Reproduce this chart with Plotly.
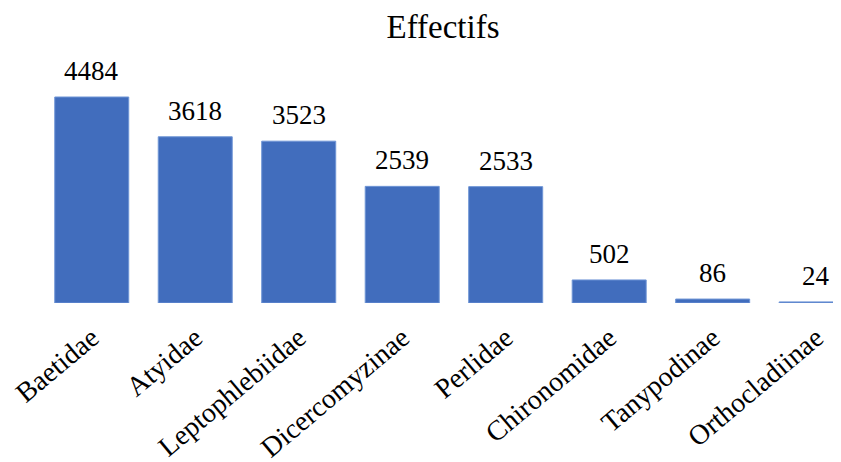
import plotly.graph_objects as go

categories = ["Baetidae", "Atyidae", "Leptophlebiidae", "Dicercomyzinae",
              "Perlidae", "Chironomidae", "Tanypodinae", "Orthocladiinae"]
values = [4484, 3618, 3523, 2539, 2533, 502, 86, 24]

fig = go.Figure(go.Bar(
    x=categories, y=values,
    marker=dict(color="#416dbd", line=dict(color="#6f95d6", width=1)),
    width=0.715, cliponaxis=False,
))

for c, v in zip(categories, values):
    fig.add_annotation(x=c, y=v, text=str(v), showarrow=False,
                       yanchor="bottom", yshift=9,
                       font=dict(family="Liberation Serif", size=27, color="black"))

fig.update_layout(
    width=841, height=462,
    margin=dict(l=32, r=8, t=32, b=167, autoexpand=False),
    paper_bgcolor="white", plot_bgcolor="white",
    title=dict(text="Effectifs", x=435/841, xanchor="center", y=1 - 18/462, yanchor="middle",
               font=dict(family="Liberation Serif", size=33, color="black")),
    xaxis=dict(range=[-0.5, 7.24], tickangle=-40, showline=False, showgrid=False,
               automargin=False, ticks="", ticklabelstandoff=12,
               tickfont=dict(family="Liberation Serif", size=28, color="black")),
    yaxis=dict(range=[0, 5725], visible=False, automargin=False),
    showlegend=False,
)

fig.write_html("out.html")
